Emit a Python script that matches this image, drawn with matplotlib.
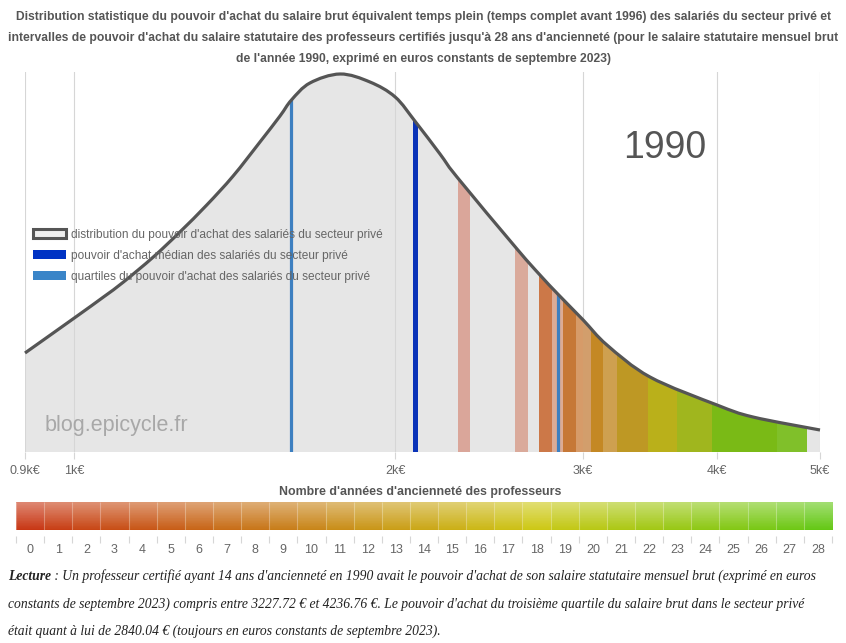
import matplotlib
matplotlib.use('Agg')
import matplotlib.pyplot as plt
import matplotlib.font_manager as fm
from matplotlib.patches import PathPatch, Patch
from matplotlib.path import Path
from matplotlib.colors import LinearSegmentedColormap, to_rgb
import numpy as np

# --- data ---
# distribution curve (salary in euros, density in arbitrary units)
salaire = [900, 1001, 1066, 1113, 1187, 1257, 1332, 1410, 1494, 1560, 1599, 1664,
           1776, 1894, 2000, 2090, 2203, 2285, 2601, 2733, 2840, 3000, 3158, 3465,
           4004, 4327, 5000]
densite = [99, 134, 155, 170, 195, 220, 247, 276, 310, 336, 352, 369,
           378, 370, 355, 330, 298, 275, 203, 177, 158, 132, 107, 75,
           47, 35, 22]

quartile_1 = 1599
mediane = 2088
quartile_3 = 2840.04

# visible intervals of the teachers' salaries (euros)
bande_debut = [2289, 2590, 2727, 2803, 2870, 2954, 3001, 3049, 3133, 3225, 3450, 3673, 3961, 4558]
bande_fin = [2350, 2662, 2803, 2870, 2954, 3001, 3049, 3133, 3225, 3450, 3673, 3961, 4558, 4862]
bande_couleur = ['#daa69a', '#daaa9b', '#cc7848', '#dcac96', '#c67837', '#d69b69',
                 '#d29e6c', '#c48824', '#cea050', '#be9824', '#bab01a', '#a0b61e',
                 '#7aba16', '#80c02a']

ticks_x = [900, 1000, 2000, 3000, 4000, 5000]
ticks_x_labels = ['0.9k€', '1k€', '2k€', '3k€', '4k€', '5k€']
annees = list(range(29))

titre = ("Distribution statistique du pouvoir d'achat du salaire brut équivalent temps plein "
         "(temps complet avant 1996) des salariés du secteur privé et\n"
         "intervalles de pouvoir d'achat du salaire statutaire des professeurs certifiés jusqu'à "
         "28 ans d'ancienneté (pour le salaire statutaire mensuel brut\n"
         "de l'année 1990, exprimé en euros constants de septembre 2023)")
lecture = [" : Un professeur certifié ayant 14 ans d'ancienneté en 1990 avait le pouvoir d'achat "
           "de son salaire statutaire mensuel brut (exprimé en euros",
           "constants de septembre 2023) compris entre 3227.72 € et 4236.76 €. Le pouvoir d'achat "
           "du troisième quartile du salaire brut dans le secteur privé",
           "était quant à lui de 2840.04 € (toujours en euros constants de septembre 2023)."]

# fonts
try:
    fm.findfont(fm.FontProperties(family='Liberation Sans Narrow'), fallback_to_default=False)
    narrow = 'Liberation Sans Narrow'
except Exception:
    narrow = 'Liberation Sans'
plt.rcParams['font.family'] = ['Liberation Sans', 'DejaVu Sans']


def smooth_path(xs, ys, close_to=None):
    # Catmull-Rom curve through the read points, drawn as cubic Bezier (log x space)
    lx = np.log10(xs)
    p = np.column_stack([lx, ys]).astype(float)
    p_ext = np.vstack([p[0], p, p[-1]])
    verts = [p[0]]
    codes = [Path.MOVETO]
    for i in range(len(p) - 1):
        a, b, c, d = p_ext[i], p_ext[i + 1], p_ext[i + 2], p_ext[i + 3]
        verts += [b + (c - a) / 6, c - (d - b) / 6, c]
        codes += [Path.CURVE4] * 3
    if close_to is not None:
        verts += [np.array([lx[-1], close_to]), np.array([lx[0], close_to]), p[0]]
        codes += [Path.LINETO, Path.LINETO, Path.CLOSEPOLY]
    verts = np.array(verts)
    verts[:, 0] = 10 ** verts[:, 0]
    return Path(verts, codes)


W, H = 846, 643
fig = plt.figure(figsize=(W / 100, H / 100), dpi=100)

# --- main chart ---
ax = fig.add_axes([25 / W, 1 - 452 / H, 795 / W, 380 / H])
ax.set_xscale('log')
ax.set_xlim(900, 5000)
ax.set_ylim(0, 380)

zone = PathPatch(smooth_path(salaire, densite, close_to=0), facecolor='#e6e6e6',
                 edgecolor='none', zorder=1)
ax.add_patch(zone)

for t in ticks_x:
    ax.axvline(t, color='#d6d6d6', lw=0.8, zorder=1.5)

for lo, hi, c in zip(bande_debut, bande_fin, bande_couleur):
    sp = ax.axvspan(lo, hi, color=c, lw=0, zorder=2)
    sp.set_clip_path(zone)

for v, c, w in [(quartile_1, '#3d7fc0', 2.3), (quartile_3, '#3d7fc0', 2.3), (mediane, '#0a33b8', 3.6)]:
    ln = ax.axvline(v, color=c, lw=w, zorder=3)
    ln.set_clip_path(zone)

courbe = PathPatch(smooth_path(salaire, densite), facecolor='none', edgecolor='#555555',
                   lw=2.3, zorder=4, capstyle='butt', joinstyle='round', clip_on=False)
ax.add_patch(courbe)

for s in ax.spines.values():
    s.set_visible(False)
ax.set_yticks([])
ax.set_xticks(ticks_x)
ax.set_xticklabels(ticks_x_labels, family=narrow, fontsize=9, color='#666666')
ax.xaxis.set_minor_locator(matplotlib.ticker.NullLocator())
ax.tick_params(axis='x', length=5, width=0.8, color='#d6d6d6', pad=4)

leg_handles = [Patch(facecolor='#eeeeee', edgecolor='#555555', linewidth=2.2),
               Patch(facecolor='#0033c4', edgecolor='none'),
               Patch(facecolor='#3a85c8', edgecolor='none')]
leg_labels = ["distribution du pouvoir d'achat des salariés du secteur privé",
              "pouvoir d'achat médian des salariés du secteur privé",
              "quartiles du pouvoir d'achat des salariés du secteur privé"]
leg = ax.legend(leg_handles, leg_labels, loc='upper left', frameon=False,
                bbox_to_anchor=(33 / W, 1 - 229 / H), bbox_transform=fig.transFigure,
                fontsize=8.6, labelcolor='#666666', handlelength=2.8, handleheight=0.8,
                handletextpad=0.4, labelspacing=0.75, borderpad=0, borderaxespad=0)
leg.set_zorder(5)

fig.text(665 / W, 1 - 148 / H, '1990', ha='center', va='center', fontsize=27, color='#555555')
fig.text(45 / W, 1 - 425 / H, 'blog.epicycle.fr', ha='left', va='center', fontsize=15.5,
         color='#a8a8a8')

fig.text(423 / W, 1 - 38 / H, titre, ha='center', va='center', family=narrow,
         fontweight='bold', fontsize=8.7, color='#555555', linespacing=1.95)
fig.text(420 / W, 1 - 492 / H, "Nombre d'années d'ancienneté des professeurs", ha='center',
         va='center', family=narrow, fontweight='bold', fontsize=8.9, color='#555555')

# --- colour scale of seniority ---
cax = fig.add_axes([16 / W, 1 - 530 / H, 816 / W, 28 / H])
cmap = LinearSegmentedColormap.from_list('anc', [(0, '#c83714'), (9 / 28, '#c87d19'),
                                                  (18 / 28, '#cdc814'), (1, '#64c814')])
n = len(annees)
rep = 20
img = np.zeros((40, n * rep, 3))
for k in annees:
    base = np.array(to_rgb(cmap(k / (n - 1))))
    top = base + (1 - base) * 0.42
    grad = np.linspace(0, 1, 40)[:, None]
    img[:, k * rep:(k + 1) * rep, :] = (top * (1 - grad) + base * grad)[:, None, :]
cax.imshow(img, extent=(-0.5, n - 0.5, 0, 1), aspect='auto', interpolation='nearest')
cax.vlines(np.arange(n + 1) - 0.5, 0, 1, color='white', alpha=0.3, lw=0.8)
cax.vlines(np.arange(n + 1) - 0.5, -0.22, -0.45, color='#d6d6d6', lw=0.8, clip_on=False)
cax.set_xlim(-0.5, n - 0.5)
cax.set_ylim(0, 1)
for s in cax.spines.values():
    s.set_visible(False)
cax.set_yticks([])
cax.set_xticks(annees)
cax.set_xticklabels([str(a) for a in annees], family=narrow, fontsize=9, color='#666666')
cax.tick_params(axis='x', length=0, pad=10)

# --- reading note ---
ys = [576, 604, 631]
fs = 9.8
first = fig.text(8 / W, 1 - ys[0] / H, 'Lecture', family='Liberation Serif', style='italic',
                 fontweight='bold', fontsize=fs, color='#222222', va='center')
ax.annotate(lecture[0], xy=(1, 0.5), xycoords=first, va='center', ha='left',
            family='Liberation Serif', style='italic', fontsize=fs, color='#222222',
            annotation_clip=False)
for txt, y in zip(lecture[1:], ys[1:]):
    fig.text(8 / W, 1 - y / H, txt, family='Liberation Serif', style='italic',
             fontsize=fs, color='#222222', va='center')

fig.savefig('out.png', dpi=100)
